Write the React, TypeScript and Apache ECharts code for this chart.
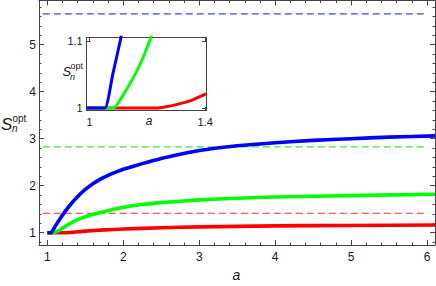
import React, { useEffect, useRef } from "react";
import * as echarts from "echarts";

// ---- data ----
const blueMain: [number, number][] = [
  [1, 1], [1.05, 1], [1.1, 1.13], [1.15, 1.255], [1.2, 1.375], [1.3, 1.59], [1.4, 1.77],
  [1.5, 1.92], [1.6, 2.04], [1.7, 2.14], [1.8, 2.22], [1.9, 2.29], [2, 2.35], [2.25, 2.47],
  [2.5, 2.58], [2.75, 2.67], [3, 2.75], [3.5, 2.85], [4, 2.915], [4.5, 2.965], [5, 3.0],
  [5.5, 3.035], [6.105, 3.06],
];
const greenMain: [number, number][] = [
  [1, 1], [1.083, 1], [1.12, 1.022], [1.155, 1.048], [1.21, 1.105], [1.25, 1.15], [1.3, 1.2],
  [1.4, 1.28], [1.5, 1.34], [1.66, 1.414], [1.8, 1.47], [2, 1.54], [2.25, 1.6], [2.5, 1.64],
  [3, 1.7], [3.5, 1.735], [4, 1.76], [5, 1.79], [6.105, 1.82],
];
const redMain: [number, number][] = [
  [1, 1], [1.233, 1], [1.3, 1.005], [1.35, 1.011], [1.4, 1.02], [1.5, 1.035], [1.75, 1.06],
  [2, 1.08], [2.5, 1.105], [3, 1.125], [4, 1.145], [5, 1.155], [6.105, 1.165],
];
const blueInset: [number, number][] = [
  [0.99, 1], [1.053, 1], [1.08, 1.05], [1.106, 1.1], [1.12, 1.13],
];
const greenInset: [number, number][] = [
  [0.99, 1], [1.083, 1], [1.12, 1.022], [1.155, 1.048], [1.185, 1.075], [1.21, 1.103], [1.24, 1.14],
];
const redInset: [number, number][] = [
  [0.99, 1], [1.233, 1], [1.26, 1.0015], [1.3, 1.005], [1.35, 1.011], [1.403, 1.021],
];
const levelSpan = [0.94, 6.0];
const levelBlue = 5.657;
const levelGreen = 2.828;
const levelRed = 1.414;

const mainXTicks = [1, 2, 3, 4, 5, 6];
const mainYTicks = [1, 2, 3, 4, 5];
const insetXTicks = [1, 1.4];
const insetYTicks = [1, 1.1];

// ---- styling ----
const FRAME = "#444";
const TXT = "#1a1a1a";
const FONT = "'Liberation Sans', Arial, sans-serif";
const BLUE = "#0000ff";
const GREEN = "#00ff00";
const RED = "#ff0000";

const MX: [number, number] = [0.89, 6.105];
const MY: [number, number] = [0.739, 5.941];
const IX: [number, number] = [0.99, 1.403];
const IY: [number, number] = [0.996, 1.1055];

function minorTicks(lo: number, hi: number, step: number, majors: number[]) {
  const out: number[] = [];
  const start = Math.ceil(lo / step - 1e-9);
  for (let k = start; k * step <= hi + 1e-9; k++) {
    const v = Math.round(k * step * 1000) / 1000;
    if (!majors.some((m) => Math.abs(m - v) < 1e-6)) out.push(v);
  }
  return out;
}

function axis(
  dim: "x" | "y",
  grid: number,
  pos: string,
  range: [number, number],
  ticks: number[],
  len: number,
  showLine: boolean,
  labels?: number[],
  fontSize = 12,
  margin = 4
) {
  return {
    type: "value",
    gridIndex: grid,
    position: pos,
    min: range[0],
    max: range[1],
    axisLine: { show: showLine, onZero: false, lineStyle: { color: FRAME, width: 1 } },
    axisTick: {
      show: true,
      inside: true,
      length: len,
      customValues: ticks,
      lineStyle: { color: FRAME, width: 1 },
    },
    axisLabel: labels
      ? {
          show: true,
          customValues: labels,
          formatter: (v: number) => String(v),
          fontSize,
          fontFamily: FONT,
          color: TXT,
          margin,
        }
      : { show: false },
    splitLine: { show: false },
  };
}

function lineSeries(data: [number, number][], color: string, width: number, gi: number, z: number) {
  return {
    type: "line",
    xAxisIndex: gi === 0 ? 0 : 4,
    yAxisIndex: gi === 0 ? 0 : 4,
    data,
    showSymbol: false,
    symbol: "none",
    smooth: 0.15,
    clip: true,
    z,
    lineStyle: { color, width, cap: "butt", join: "round" },
  };
}

function levelSeries(y: number, color: string) {
  return {
    type: "line",
    xAxisIndex: 0,
    yAxisIndex: 0,
    data: levelSpan.map((x) => [x, y]),
    showSymbol: false,
    symbol: "none",
    z: 2,
    lineStyle: { color, width: 1.2, type: [7, 4] },
  };
}

export default function App() {
  const ref = useRef<HTMLDivElement>(null);
  useEffect(() => {
    const chart = echarts.init(ref.current!, null, { renderer: "svg" });
    const mxMinor = minorTicks(MX[0], MX[1], 0.2, mainXTicks);
    const myMinor = minorTicks(MY[0], MY[1], 0.2, mainYTicks);
    const option = {
      animation: false,
      backgroundColor: "#fff",
      grid: [
        { left: 39, right: 1, top: 0.5, bottom: 41, containLabel: false },
        { left: 86.7, top: 37.3, width: 119.3, height: 73.4, show: true, backgroundColor: "#fff", borderWidth: 0, z: 5 },
      ],
      xAxis: [
        axis("x", 0, "bottom", MX, mainXTicks, 5, true, mainXTicks, 12, 6),
        axis("x", 0, "bottom", MX, mxMinor, 2.5, false),
        axis("x", 0, "top", MX, mainXTicks, 5, true),
        axis("x", 0, "top", MX, mxMinor, 2.5, false),
        { ...axis("x", 1, "bottom", IX, insetXTicks, 4, true, insetXTicks, 11, 6), z: 6 },
        { ...axis("x", 1, "top", IX, insetXTicks, 4, true), z: 6 },
      ],
      yAxis: [
        axis("y", 0, "left", MY, mainYTicks, 5, true, mainYTicks, 12, 3),
        axis("y", 0, "left", MY, myMinor, 2.5, false),
        axis("y", 0, "right", MY, mainYTicks, 5, true),
        axis("y", 0, "right", MY, myMinor, 2.5, false),
        { ...axis("y", 1, "left", IY, insetYTicks, 4, true, insetYTicks, 11, 4), z: 6 },
        { ...axis("y", 1, "right", IY, insetYTicks, 4, true), z: 6 },
      ],
      series: [
        levelSeries(levelBlue, "#3f3fff"),
        levelSeries(levelGreen, "#33ee33"),
        levelSeries(levelRed, "#ff2a2a"),
        lineSeries(redMain, RED, 3.6, 0, 3),
        lineSeries(greenMain, GREEN, 3.6, 0, 3),
        lineSeries(blueMain, BLUE, 3.6, 0, 3),
        lineSeries(redInset, RED, 3, 1, 7),
        lineSeries(greenInset, GREEN, 3, 1, 7),
        lineSeries(blueInset, BLUE, 3, 1, 7),
      ],
      graphic: [
        { type: "text", left: 1, top: 116, z: 10, style: { text: "S", font: `italic 17px ${FONT}`, fill: TXT } },
        { type: "text", x: 12.5, y: 118, z: 10, style: { text: "opt", font: `10px ${FONT}`, fill: TXT, verticalAlign: "middle" } },
        { type: "text", x: 12, y: 128, z: 10, style: { text: "n", font: `italic 10px ${FONT}`, fill: TXT, verticalAlign: "middle" } },
        { type: "text", x: 236.5, y: 275, z: 10, style: { text: "a", font: `italic 14px ${FONT}`, fill: TXT, align: "center", verticalAlign: "middle" } },
        { type: "text", x: 62.5, y: 71.5, z: 10, style: { text: "S", font: `italic 13px ${FONT}`, fill: TXT, verticalAlign: "middle" } },
        { type: "text", x: 70.5, y: 65.5, z: 10, style: { text: "opt", font: `9px ${FONT}`, fill: TXT, verticalAlign: "middle" } },
        { type: "text", x: 70, y: 76.5, z: 10, style: { text: "n", font: `italic 9px ${FONT}`, fill: TXT, verticalAlign: "middle" } },
        { type: "text", x: 149, y: 121, z: 10, style: { text: "a", font: `italic 12px ${FONT}`, fill: TXT, align: "center", verticalAlign: "middle" } },
      ],
    };
    chart.setOption(option as any);
    return () => chart.dispose();
  }, []);
  return (
    <div
      ref={ref}
      style={{ position: "fixed", left: 0, top: 0, width: 436, height: 286, background: "#fff" }}
    />
  );
}
